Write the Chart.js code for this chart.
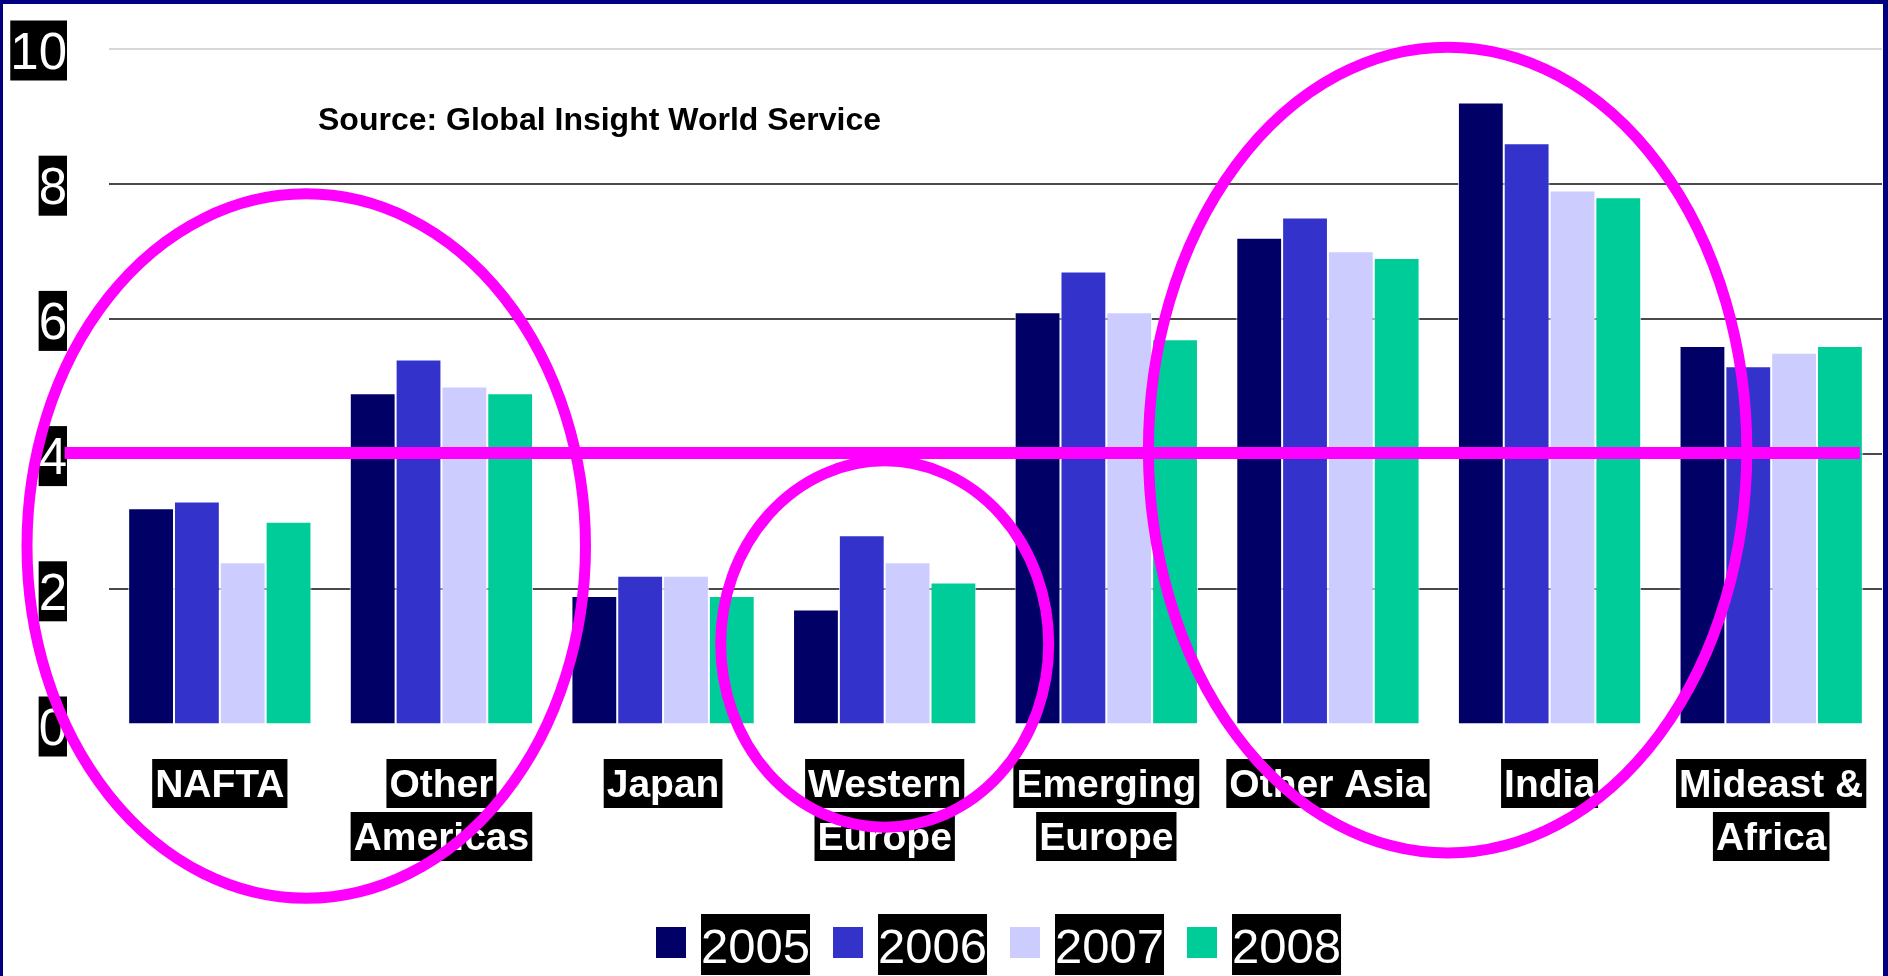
<!DOCTYPE html>
<html>
<head>
<meta charset="utf-8">
<script src="https://cdn.jsdelivr.net/npm/chart.js@4/dist/chart.umd.min.js"></script>
<style>
  html, body { margin: 0; padding: 0; background: #ffffff; overflow: hidden; }
  canvas { display: block; }
</style>
</head>
<body>
<canvas id="growth" width="1888" height="976"></canvas>
<script>
const regions = [
  ["NAFTA"], ["Other", "Americas"], ["Japan"], ["Western", "Europe"],
  ["Emerging", "Europe"], ["Other Asia"], ["India"], ["Mideast &", "Africa"]
];
const years = ["2005", "2006", "2007", "2008"];
const growth2005 = [3.2, 4.9, 1.9, 1.7, 6.1, 7.2, 9.2, 5.6];
const growth2006 = [3.3, 5.4, 2.2, 2.8, 6.7, 7.5, 8.6, 5.3];
const growth2007 = [2.4, 5.0, 2.2, 2.4, 6.1, 7.0, 7.9, 5.5];
const growth2008 = [3.0, 4.9, 1.9, 2.1, 5.7, 6.9, 7.8, 5.6];
const yTicks = [0, 2, 4, 6, 8, 10];
const colors = ["#000066", "#3333cc", "#ccccff", "#00cc99"];
const sourceNote = "Source: Global Insight World Service";

// hand-drawn highlights, in category index / value units
const highlightEllipses = [
  { cx: 0.39, cy: 2.64, rx: 1.26, ry: 5.21 },
  { cx: 3.0, cy: 1.19, rx: 0.74, ry: 2.71 },
  { cx: 5.54, cy: 4.06, rx: 1.35, ry: 5.96 }
];
const highlightLine = { from: -0.7, to: 7.4, value: 4 };

const LABEL_FONT = '"Liberation Sans", Arial, sans-serif';

function labelBox(ctx, text, x, cy, h, pad, align, font, cap) {
  ctx.font = font;
  const w = ctx.measureText(text).width + pad * 2;
  let left = x - w / 2;
  if (align === "right") left = x - w;
  if (align === "left") left = x;
  ctx.fillStyle = "#000000";
  ctx.fillRect(left, cy - h / 2, w, h);
  ctx.fillStyle = "#ffffff";
  ctx.textAlign = "left";
  ctx.textBaseline = "alphabetic";
  ctx.fillText(text, left + pad, cy + cap / 2);
  return w;
}

const decor = {
  id: "decor",
  beforeDraw(chart) {
    const ctx = chart.ctx;
    ctx.save();
    ctx.fillStyle = "#ffffff";
    ctx.fillRect(0, 0, chart.width, chart.height);
    ctx.fillStyle = "#000080";
    ctx.fillRect(0, 0, chart.width, 4);
    ctx.fillRect(0, 0, 3, chart.height);
    ctx.fillRect(chart.width - 5, 0, 5, chart.height);
    ctx.restore();
  },
  afterDraw(chart) {
    const ctx = chart.ctx;
    const xs = chart.scales.x, ys = chart.scales.y;
    ctx.save();

    // y tick labels
    yTicks.forEach(v => {
      labelBox(ctx, String(v), xs.left - 42, ys.getPixelForValue(v) + 2, 60, 0,
        "right", "51px " + LABEL_FONT, 51 * 0.716);
    });

    // category labels, one black box per line
    regions.forEach((lines, i) => {
      const x = xs.getPixelForValue(i);
      lines.forEach((line, k) => {
        labelBox(ctx, line, x, 783.5 + k * 53, 49, 3, "center",
          "bold 39px " + LABEL_FONT, 39 * 0.716);
      });
    });

    // source note
    ctx.font = "bold 32px " + LABEL_FONT;
    ctx.fillStyle = "#000000";
    ctx.textAlign = "left";
    ctx.textBaseline = "alphabetic";
    ctx.fillText(sourceNote, 318, 130);

    // legend
    let lx = 656;
    chart.data.datasets.forEach(ds => {
      ctx.fillStyle = ds.backgroundColor;
      ctx.fillRect(lx, 927, 30, 31);
      lx += 45;
      lx += labelBox(ctx, ds.label, lx, 944.5, 61, 0, "left",
        "49px " + LABEL_FONT, 37);
      lx += 23;
    });

    // magenta highlights
    ctx.strokeStyle = "#ff00ff";
    ctx.lineWidth = 12;
    ctx.beginPath();
    const ly = ys.getPixelForValue(highlightLine.value) - 1;
    ctx.moveTo(xs.getPixelForValue(highlightLine.from), ly);
    ctx.lineTo(xs.getPixelForValue(highlightLine.to), ly);
    ctx.stroke();
    ctx.lineWidth = 11;
    highlightEllipses.forEach(e => {
      const cx = xs.getPixelForValue(e.cx);
      const cy = ys.getPixelForValue(e.cy);
      const rx = xs.getPixelForValue(e.cx + e.rx) - cx;
      const ry = ys.getPixelForValue(0) - ys.getPixelForValue(e.ry);
      ctx.beginPath();
      ctx.ellipse(cx, cy, rx, ry, 0, 0, Math.PI * 2);
      ctx.stroke();
    });

    ctx.restore();
  }
};

const series = [growth2005, growth2006, growth2007, growth2008];

new Chart(document.getElementById("growth"), {
  type: "bar",
  data: {
    labels: regions,
    datasets: years.map((y, i) => ({
      label: y,
      data: series[i],
      backgroundColor: colors[i],
      borderColor: "rgba(255,255,255,0.85)",
      borderWidth: 1,
      barPercentage: 1.0,
      categoryPercentage: 0.827
    }))
  },
  options: {
    responsive: false,
    animation: false,
    devicePixelRatio: 1,
    layout: { padding: { left: 109, right: 6, top: 48.5, bottom: 251.5 } },
    plugins: {
      legend: { display: false },
      tooltip: { enabled: false }
    },
    scales: {
      x: {
        grid: { display: false },
        border: { display: false },
        ticks: { display: false },
        afterFit(s) { s.height = 0; }
      },
      y: {
        min: 0,
        max: 10,
        ticks: { display: false, stepSize: 2 },
        border: { display: false },
        grid: {
          drawTicks: false,
          lineWidth: 2,
          color(ctx) {
            const v = ctx.tick && ctx.tick.value;
            if (v === 0) return "rgba(0,0,0,0)";
            if (v === 10) return "#d8d8d8";
            return "#4a4a4a";
          }
        },
        afterFit(s) { s.width = 0; }
      }
    }
  },
  plugins: [decor]
});
</script>
</body>
</html>
